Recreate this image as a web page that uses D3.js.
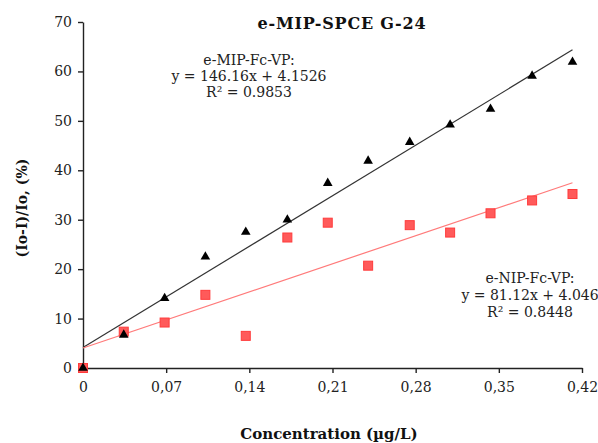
<!DOCTYPE html>
<html><head><meta charset="utf-8">
<script src="https://cdn.jsdelivr.net/npm/d3@7"></script>
<style>body{margin:0;background:#fff}svg{display:block}text{font-family:"DejaVu Serif",serif}</style>
</head><body>
<svg id="c" width="598" height="443"></svg>
<script>
const concentrations = [0, 0.0343, 0.0687, 0.103, 0.137, 0.172, 0.206, 0.240, 0.275, 0.309, 0.343, 0.378, 0.412];
const mipValues = [0, 6.7, 14.1, 22.5, 27.5, 30.0, 37.4, 41.9, 45.7, 49.2, 52.4, 59.1, 61.9];
const nipValues = [0, 7.35, 9.2, 14.8, 6.5, 26.4, 29.4, 20.7, 28.9, 27.4, 31.3, 33.9, 35.2];
const fitSlopes = [146.16, 81.12];
const fitIntercepts = [4.1526, 4.046];
const xTicks = [0, 0.07, 0.14, 0.21, 0.28, 0.35, 0.42];
const xTickLabels = ["0", "0,07", "0,14", "0,21", "0,28", "0,35", "0,42"];
const yTicks = [0, 10, 20, 30, 40, 50, 60, 70];
const title = "e-MIP-SPCE G-24";
const xTitle = "Concentration (µg/L)";
const yTitle = "(Io-I)/Io, (%)";
const mipLabel = ["e-MIP-Fc-VP:", "y = 146.16x + 4.1526", "R² = 0.9853"];
const nipLabel = ["e-NIP-Fc-VP:", "y = 81.12x + 4.046", "R² = 0.8448"];

const svg = d3.select("#c");
const x = d3.scaleLinear().domain([0, 0.42]).range([83, 582]);
const y = d3.scaleLinear().domain([0, 70]).range([368, 22]);

// axes
const xa = svg.append("g").attr("transform", `translate(0,${y(0)})`)
  .call(d3.axisBottom(x).tickValues(xTicks).tickFormat((d, i) => xTickLabels[i]).tickSizeInner(5).tickSizeOuter(0).tickPadding(9));
const ya = svg.append("g").attr("transform", `translate(${x(0)},0)`)
  .call(d3.axisLeft(y).tickValues(yTicks).tickSizeInner(5).tickSizeOuter(0).tickPadding(6));
[xa, ya].forEach(g => {
  g.selectAll("path,line").attr("stroke", "#222").attr("stroke-width", 1.4);
  g.selectAll("text").attr("font-size", 14).attr("fill", "#222").attr("font-family", "DejaVu Serif");
});

// regression lines
const xMax = d3.max(concentrations);
const fits = [{s: fitSlopes[0], b: fitIntercepts[0], c: "#333", w: 1.2}, {s: fitSlopes[1], b: fitIntercepts[1], c: "#ff7a7a", w: 1.2}];
fits.forEach(f => {
  svg.append("line").attr("x1", x(0)).attr("y1", y(f.b)).attr("x2", x(xMax)).attr("y2", y(f.s * xMax + f.b))
    .attr("stroke", f.c).attr("stroke-width", f.w);
});

// NIP squares
svg.append("g").selectAll("rect").data(concentrations).join("rect")
  .attr("x", (d) => x(d) - 4.5).attr("y", (d, i) => y(nipValues[i]) - 4.5)
  .attr("width", 9).attr("height", 9)
  .attr("fill", "#ff5a5a").attr("stroke", "#ff3b3b").attr("stroke-width", 1);

// MIP triangles
const tri = d3.symbol().type(d3.symbolTriangle).size(40);
svg.append("g").selectAll("path").data(concentrations).join("path")
  .attr("d", tri)
  .attr("transform", (d, i) => `translate(${x(d)},${y(mipValues[i])})`)
  .attr("fill", "#000");

// titles
svg.append("text").attr("x", 342).attr("y", 29).attr("text-anchor", "middle")
  .attr("font-size", 16).attr("letter-spacing", 0.8).attr("font-weight", "bold").attr("fill", "#111").text(title);
svg.append("text").attr("x", 329).attr("y", 439).attr("text-anchor", "middle")
  .attr("font-size", 15).attr("font-weight", "bold").attr("fill", "#111").text(xTitle);
svg.append("text").attr("transform", "translate(27,208) rotate(-90)").attr("text-anchor", "middle")
  .attr("font-size", 14).attr("font-weight", "bold").attr("fill", "#111").text(yTitle);

// annotations
mipLabel.forEach((t, i) => svg.append("text").attr("x", 249).attr("y", 65 + i * 16)
  .attr("text-anchor", "middle").attr("font-size", 14).attr("fill", "#222").text(t));
nipLabel.forEach((t, i) => svg.append("text").attr("x", 530).attr("y", 283 + i * 17)
  .attr("text-anchor", "middle").attr("font-size", 14).attr("fill", "#222").text(t));
</script>
</body></html>
